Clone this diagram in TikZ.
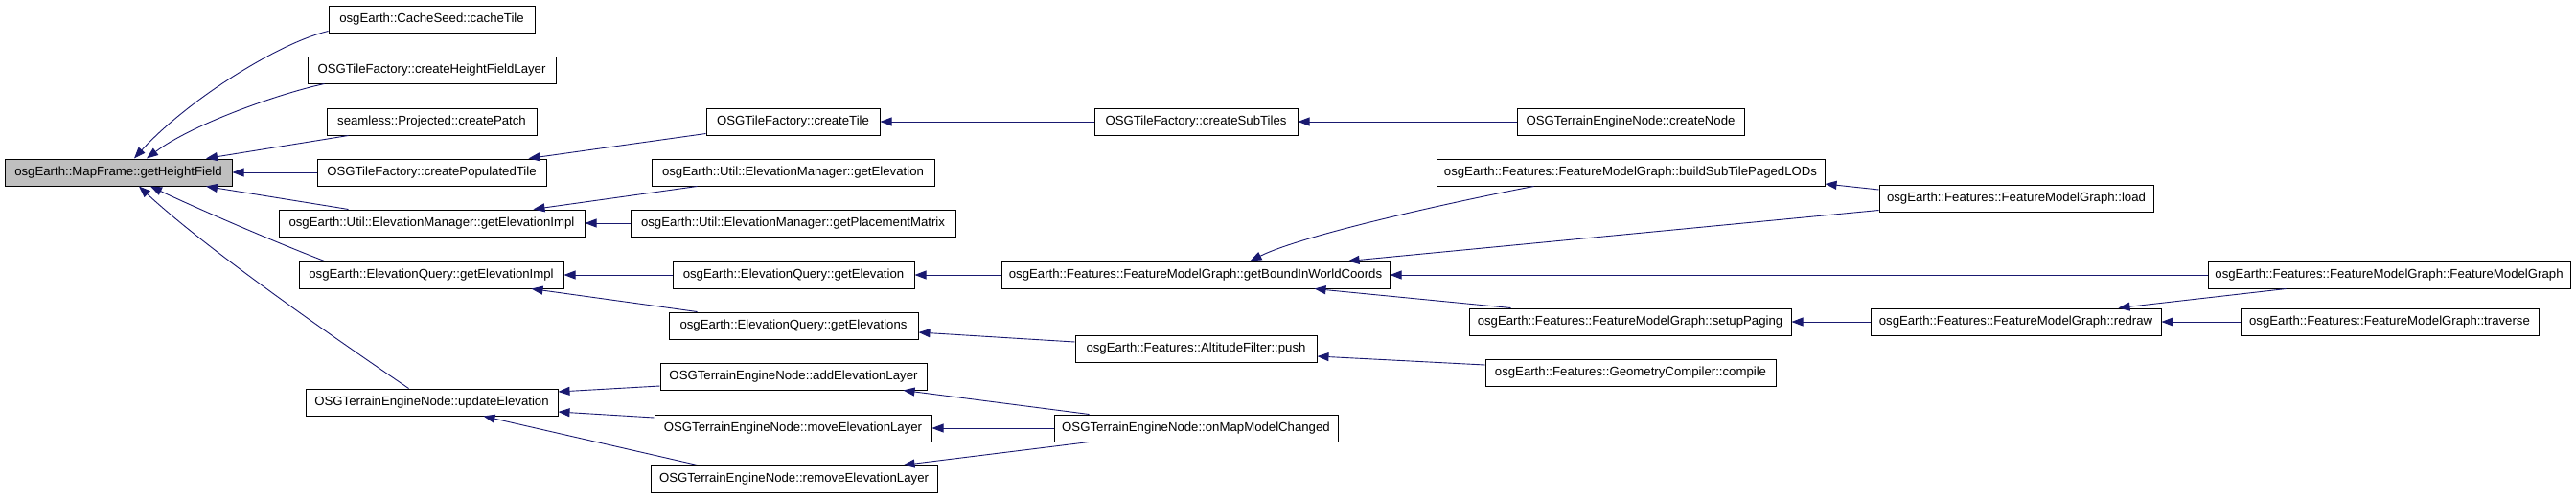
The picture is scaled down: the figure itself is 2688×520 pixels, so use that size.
\documentclass[tikz,border=0pt]{standalone}
\usepackage{fontspec}
\setmainfont{Liberation Sans}
\usepackage{tikz}
\usetikzlibrary{arrows.meta,positioning}
\definecolor{edgeblue}{RGB}{25,25,112}
\definecolor{rootgray}{RGB}{191,191,191}
\definecolor{ink}{RGB}{0,0,0}
\tikzset{
  fnnode/.style={draw=ink,line width=1pt,rectangle,minimum height=28pt,
    inner xsep=2pt,inner ysep=0pt,text=ink,
    font=\fontsize{13.2}{15}\selectfont},
  rootnode/.style={fnnode,fill=rootgray},
  calledge/.style={draw=edgeblue,line width=0.9pt,
    -{Triangle[length=12pt,width=9pt]}}
}
\begin{document}
\begin{tikzpicture}[x=1pt,y=-1pt]
  \useasboundingbox (0,0) rectangle (2688,520);
  \node[rootnode,minimum width=237pt] (root) at (123.5,180) {osgEarth::MapFrame::getHeightField};
  \node[fnnode,minimum width=215pt] (cacheTile) at (450.5,20) {osgEarth::CacheSeed::cacheTile};
  \node[fnnode,minimum width=259pt] (hfLayer) at (450.5,73) {OSGTileFactory::createHeightFieldLayer};
  \node[fnnode,minimum width=219pt] (patch) at (450.5,127) {seamless::Projected::createPatch};
  \node[fnnode,minimum width=239pt] (popTile) at (450.5,180) {OSGTileFactory::createPopulatedTile};
  \node[fnnode,minimum width=319pt] (emImpl) at (450.5,233) {osgEarth::Util::ElevationManager::getElevationImpl};
  \node[fnnode,minimum width=276pt] (eqImpl) at (450,287) {osgEarth::ElevationQuery::getElevationImpl};
  \node[fnnode,minimum width=263pt] (updElev) at (450.5,420) {OSGTerrainEngineNode::updateElevation};
  \node[fnnode,minimum width=181pt] (createTile) at (827.5,127) {OSGTileFactory::createTile};
  \node[fnnode,minimum width=295pt] (emGetElev) at (827.5,180) {osgEarth::Util::ElevationManager::getElevation};
  \node[fnnode,minimum width=339pt] (emPlace) at (827.5,233) {osgEarth::Util::ElevationManager::getPlacementMatrix};
  \node[fnnode,minimum width=252pt] (eqGetElev) at (828,287) {osgEarth::ElevationQuery::getElevation};
  \node[fnnode,minimum width=260pt] (eqGetElevs) at (828,340) {osgEarth::ElevationQuery::getElevations};
  \node[fnnode,minimum width=278pt] (addLayer) at (828,393) {OSGTerrainEngineNode::addElevationLayer};
  \node[fnnode,minimum width=289pt] (moveLayer) at (827.5,447) {OSGTerrainEngineNode::moveElevationLayer};
  \node[fnnode,minimum width=299pt] (removeLayer) at (828.5,500) {OSGTerrainEngineNode::removeElevationLayer};
  \node[fnnode,minimum width=212pt] (subTiles) at (1248,127) {OSGTileFactory::createSubTiles};
  \node[fnnode,minimum width=405pt] (bound) at (1247.5,287) {osgEarth::Features::FeatureModelGraph::getBoundInWorldCoords};
  \node[fnnode,minimum width=252pt] (push) at (1248,364) {osgEarth::Features::AltitudeFilter::push};
  \node[fnnode,minimum width=296pt] (mapChanged) at (1248,447) {OSGTerrainEngineNode::onMapModelChanged};
  \node[fnnode,minimum width=237pt] (createNode) at (1701.5,127) {OSGTerrainEngineNode::createNode};
  \node[fnnode,minimum width=405pt] (buildLODs) at (1701.5,180) {osgEarth::Features::FeatureModelGraph::buildSubTilePagedLODs};
  \node[fnnode,minimum width=336pt] (setupPaging) at (1701,336) {osgEarth::Features::FeatureModelGraph::setupPaging};
  \node[fnnode,minimum width=303pt] (compile) at (1701.5,389) {osgEarth::Features::GeometryCompiler::compile};
  \node[fnnode,minimum width=286pt] (load) at (2104,207) {osgEarth::Features::FeatureModelGraph::load};
  \node[fnnode,minimum width=303pt] (redraw) at (2103.5,336) {osgEarth::Features::FeatureModelGraph::redraw};
  \node[fnnode,minimum width=378pt] (fmgCtor) at (2493,287) {osgEarth::Features::FeatureModelGraph::FeatureModelGraph};
  \node[fnnode,minimum width=311pt] (traverse) at (2493.5,336) {osgEarth::Features::FeatureModelGraph::traverse};

  \draw[calledge] ([yshift=2pt]cacheTile.south west) .. controls (290,45) and (195,105) .. ([xshift=16.5pt]root.north);
  \draw[calledge] ([xshift=18pt]hfLayer.south west) .. controls (290,98) and (200,130) .. ([xshift=29.5pt]root.north);
  \draw[calledge] ([xshift=23pt]patch.south west) -- ([xshift=91.5pt]root.north);
  \draw[calledge] (popTile.west) -- (root.east);
  \draw[calledge] ([xshift=73pt]emImpl.north west) -- ([xshift=91.5pt]root.south);
  \draw[calledge] ([xshift=27pt]eqImpl.north west) .. controls (280,250) and (200,215) .. ([xshift=33.5pt]root.south);
  \draw[calledge] ([xshift=108pt]updElev.north west) .. controls (330,340) and (210,255) .. ([xshift=21.5pt]root.south);
  \draw[calledge] ([yshift=2pt]createTile.south west) -- ([xshift=-19pt]popTile.north east);
  \draw[calledge] (subTiles.west) -- (createTile.east);
  \draw[calledge] (createNode.west) -- (subTiles.east);
  \draw[calledge] ([xshift=48pt]emGetElev.south west) -- ([xshift=-54pt]emImpl.north east);
  \draw[calledge] (emPlace.west) -- (emImpl.east);
  \draw[calledge] (eqGetElev.west) -- (eqImpl.east);
  \draw[calledge] ([xshift=30pt]eqGetElevs.north west) -- ([xshift=-34pt]eqImpl.south east);
  \draw[calledge] (bound.west) -- (eqGetElev.east);
  \draw[calledge] ([yshift=7pt]push.west) -- ([yshift=-7pt]eqGetElevs.east);
  \draw[calledge] ([yshift=8pt]compile.west) -- ([yshift=-8pt]push.east);
  \draw[calledge] ([xshift=102pt]buildLODs.south west) .. controls (1520,210) and (1360,245) .. ([xshift=260pt]bound.north west);
  \draw[calledge] ([yshift=9pt]load.west) -- ([yshift=-12pt]buildLODs.east);
  \draw[calledge] ([yshift=2pt]load.south west) -- ([xshift=362pt]bound.north west);
  \draw[calledge] (fmgCtor.west) -- (bound.east);
  \draw[calledge] ([xshift=44pt]setupPaging.north west) -- ([xshift=-79pt]bound.south east);
  \draw[calledge] (redraw.west) -- (setupPaging.east);
  \draw[calledge] ([xshift=82pt]fmgCtor.south west) -- ([xshift=-45pt]redraw.north east);
  \draw[calledge] (traverse.west) -- (redraw.east);
  \draw[calledge] ([yshift=-10pt]addLayer.west) -- ([yshift=11pt]updElev.east);
  \draw[calledge] ([yshift=11pt]moveLayer.west) -- ([yshift=-10pt]updElev.east);
  \draw[calledge] ([xshift=49pt]removeLayer.north west) -- ([xshift=-78pt]updElev.south east);
  \draw[calledge] ([xshift=37pt]mapChanged.north west) -- ([xshift=-25pt]addLayer.south east);
  \draw[calledge] (mapChanged.west) -- (moveLayer.east);
  \draw[calledge] ([xshift=37pt]mapChanged.south west) -- ([xshift=-36pt]removeLayer.north east);
\end{tikzpicture}
\end{document}
